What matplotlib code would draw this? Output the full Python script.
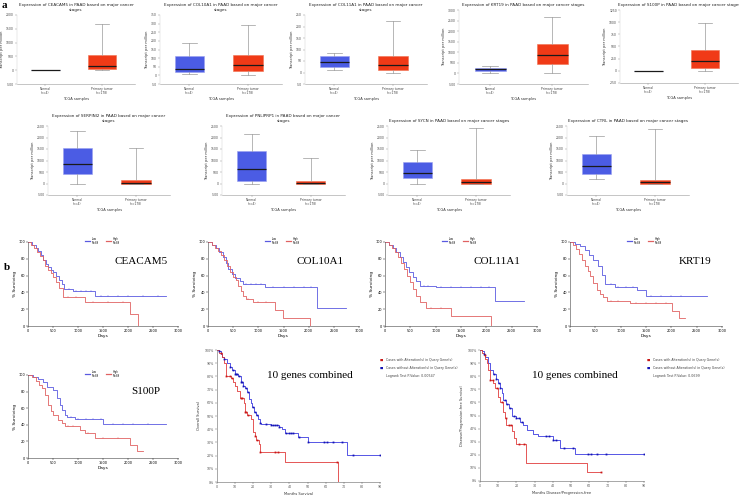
import numpy as np
import matplotlib
matplotlib.use("Agg")
import matplotlib.pyplot as plt
from matplotlib.lines import Line2D

W, H = 739, 497
fig = plt.figure(figsize=(W / 100, H / 100), dpi=100)
fig.patch.set_facecolor("white")
SERIF = ["Liberation Serif", "DejaVu Serif"]


def px_axes(l, t, r, b):
    return fig.add_axes([l / W, 1 - b / H, (r - l) / W, (b - t) / H])


def fx(x):
    return x / W


def fy(y):
    return 1 - y / H


# ---------------- (a) box plot data ----------------
box_genes = ["CEACAM5", "COL10A1", "COL11A1", "KRT19", "S100P",
             "SERPINI2", "PNLIPRP1", "SYCN", "CTRL"]
box_title_wrap = [True, True, True, False, False, True, True, False, False]
box_tick_lo = [-500, -50, -50, -500, -250, -500, -500, -500, -500]
box_tick_step = [500, 50, 50, 500, 250, 500, 500, 500, 500]
box_tick_n = [6, 9, 7, 8, 7, 7, 7, 7, 7]

normal_lo = [0, 6, 10, 0, 0, 0, 0, 0, 200]
normal_q1 = [0, 19, 23, 110, 0, 400, 130, 250, 430]
normal_med = [0, 38, 44, 190, 0, 830, 645, 470, 750]
normal_q3 = [6, 110, 70, 250, 3, 1540, 1415, 950, 1300]
normal_hi = [8, 186, 83, 345, 5, 2285, 2150, 1450, 2050]

tumor_lo = [0, 0, 0, 0, 0, 0, 0, 0, 0]
tumor_q1 = [36, 25, 10, 450, 68, 0, 0, 0, 0]
tumor_med = [143, 61, 31, 875, 203, 25, 30, 50, 50]
tumor_q3 = [536, 121, 70, 1390, 425, 145, 130, 200, 150]
tumor_hi = [1667, 292, 224, 2690, 988, 1545, 1100, 2400, 2350]

box_groups = ["Normal\n(n=4)", "Primary tumor\n(n=178)"]
box_rects = [(17, 15, 135, 84), (160, 15, 282, 84), (305, 15, 427, 84),
             (459, 10, 588, 84), (620, 10, 738, 83),
             (48, 126, 170, 195), (222, 126, 345, 195),
             (388, 126, 510, 195), (567, 126, 689, 195)]

BLUE_BOX = "#4b5ce4"
RED_BOX = "#f03a17"

for i, g in enumerate(box_genes):
    ax = px_axes(*box_rects[i])
    stats = [dict(med=normal_med[i], q1=normal_q1[i], q3=normal_q3[i],
                  whislo=normal_lo[i], whishi=normal_hi[i], fliers=[]),
             dict(med=tumor_med[i], q1=tumor_q1[i], q3=tumor_q3[i],
                  whislo=tumor_lo[i], whishi=tumor_hi[i], fliers=[])]
    bp = ax.bxp(stats, positions=[1, 2], widths=0.5, patch_artist=True,
                showfliers=False,
                boxprops=dict(linewidth=0.4, edgecolor="#9aa0f0"),
                medianprops=dict(color="#1a1a1a", linewidth=0.9),
                whiskerprops=dict(color="#9a9a9a", linewidth=0.5),
                capprops=dict(color="#9a9a9a", linewidth=0.5))
    bp["boxes"][0].set_facecolor(BLUE_BOX)
    bp["boxes"][1].set_facecolor(RED_BOX)
    bp["boxes"][1].set_edgecolor("#f07050")
    ticks = [box_tick_lo[i] + k * box_tick_step[i] for k in range(box_tick_n[i])]
    ax.set_ylim(ticks[0], ticks[-1])
    ax.set_yticks(ticks)
    ax.set_yticklabels([str(t) for t in ticks], fontsize=2.2, color="#444444")
    ax.set_xlim(0.5, 2.58)
    ax.set_xticks([1, 2])
    ax.set_xticklabels(box_groups, fontsize=2.2, color="#444444", linespacing=1.1)
    ax.tick_params(length=1.2, width=0.3, pad=1, colors="#888888", labelcolor="#444444")
    for s in ["top", "right"]:
        ax.spines[s].set_visible(False)
    ax.spines["left"].set_color("#cccccc")
    ax.spines["bottom"].set_color("#999999")
    ax.spines["left"].set_linewidth(0.3)
    ax.spines["bottom"].set_linewidth(0.4)
    ax.set_xlabel("TCGA samples", fontsize=2.6, labelpad=1.5, color="#333333")
    ax.set_ylabel("Transcript per million", fontsize=2.6, labelpad=1.5, color="#333333")
    title = "Expression of %s in PAAD based on major cancer stages" % g
    if box_title_wrap[i]:
        title = "Expression of %s in PAAD based on major cancer\nstages" % g
    ax.set_title(title, fontsize=3.0, pad=3, color="#222222", linespacing=1.4)

fig.text(fx(2), fy(6), "a", fontsize=8, fontweight="bold", family=SERIF, va="center")
fig.text(fx(4), fy(268), "b", fontsize=8, fontweight="bold", family=SERIF, va="center")

# ---------------- (b) Kaplan-Meier (days) ----------------
km_genes = ["CEACAM5", "COL10A1", "COL11A1", "KRT19", "S100P"]
km_low_n = ["N=89"] * 5
km_high_n = ["N=89"] * 5

low_t = [
    [0, 80, 150, 200, 250, 300, 350, 400, 450, 500, 560, 620, 680, 720, 900, 1330],
    [0, 80, 150, 220, 290, 350, 400, 470, 530, 630, 700, 1125, 2170],
    [0, 80, 150, 220, 290, 350, 420, 480, 550, 620, 700, 1000, 2180],
    [0, 100, 200, 300, 380, 460, 560, 630, 690, 890, 1320, 1500],
    [0, 100, 200, 300, 370, 500, 570, 630, 670, 730, 770, 930, 1500],
]
low_s = [
    [100, 97, 93, 89, 84, 79, 74, 70, 67, 64, 60, 55, 50, 44, 42, 36],
    [100, 97, 93, 88, 82, 75, 68, 62, 57, 54, 50, 46, 22],
    [100, 97, 93, 88, 82, 76, 70, 64, 58, 53, 48, 46, 30],
    [100, 98, 95, 90, 85, 79, 71, 61, 50, 47, 43, 36],
    [100, 98, 95, 91, 86, 82, 72, 64, 58, 52, 50, 47, 41],
]
low_end = [2750, 2750, 2750, 2700, 2750]

high_t = [
    [0, 60, 120, 180, 240, 300, 340, 400, 450, 500, 560, 620, 700, 1140, 2040, 2190],
    [0, 70, 140, 200, 260, 320, 380, 440, 500, 560, 600, 650, 700, 760, 890, 1340, 1490, 2020],
    [0, 70, 140, 200, 260, 320, 380, 440, 500, 560, 620, 700, 800, 1300, 2100],
    [0, 60, 120, 180, 230, 300, 360, 400, 460, 530, 590, 660, 725, 1190, 2010, 2160],
    [0, 80, 160, 220, 270, 330, 400, 460, 500, 600, 670, 730, 1030, 1130, 1330, 2030, 2170],
]
high_s = [
    [100, 97, 93, 88, 83, 78, 72, 67, 63, 58, 52, 45, 34, 28, 14, 0],
    [100, 97, 93, 89, 84, 78, 72, 64, 58, 55, 48, 42, 36, 32, 28, 19, 9, 0],
    [100, 97, 93, 88, 82, 75, 68, 60, 52, 44, 36, 28, 22, 12, 0],
    [100, 96, 92, 86, 79, 72, 65, 59, 51, 43, 38, 34, 30, 27, 18, 9],
    [100, 97, 93, 88, 84, 76, 64, 57, 52, 46, 42, 38, 34, 30, 24, 16, 8],
]
high_end = [2190, 2020, 2100, 2270, 2290]

low_cens = [
    [820, 950, 1050, 1150, 1250, 1450, 1600, 1800, 2000, 2300, 2600],
    [760, 850, 950, 1050, 1300, 1500, 1700, 1900, 2050],
    [760, 850, 1100, 1300, 1500, 1700, 1900, 2050],
    [800, 950, 1100, 1250, 1600, 1800, 2000, 2200],
    [850, 1000, 1150, 1300, 1450, 1700, 1900, 2100, 2400],
]
high_cens = [
    [800, 950, 1300, 1600, 1900],
    [800, 1000, 1150],
    [900, 1100],
    [800, 950, 1300, 1500, 1700, 1900],
    [800, 900, 1200, 1500, 1800],
]

km_rects = [(28, 242, 178, 326), (208, 242, 359, 326), (385, 242, 537, 326),
            (570, 242, 722, 326), (28, 375, 178, 458)]
km_label_pos = [(141, 262), (320, 262), (497, 262), (695, 262), (146, 391)]
KM_BLUE = "#5a5ae0"
KM_RED = "#e06262"


def surv_at(t_arr, s_arr, t):
    idx = np.searchsorted(np.asarray(t_arr), t, side="right") - 1
    return np.asarray(s_arr)[idx]


for i, g in enumerate(km_genes):
    ax = px_axes(*km_rects[i])
    lt = list(low_t[i]) + [low_end[i]]
    ls = list(low_s[i]) + [low_s[i][-1]]
    ht = list(high_t[i]) + [high_end[i]]
    hs = list(high_s[i]) + [high_s[i][-1]]
    ax.step(lt, ls, where="post", color=KM_BLUE, lw=0.6)
    ax.step(ht, hs, where="post", color=KM_RED, lw=0.6)
    ax.plot(low_cens[i], surv_at(low_t[i], low_s[i], low_cens[i]), "|",
            color=KM_BLUE, ms=1.5, mew=0.3)
    ax.plot(high_cens[i], surv_at(high_t[i], high_s[i], high_cens[i]), "|",
            color=KM_RED, ms=1.5, mew=0.3)
    ax.set_xlim(0, 3000)
    ax.set_ylim(0, 100)
    ax.set_xticks(range(0, 3001, 500))
    ax.set_yticks(range(0, 101, 20))
    ax.tick_params(labelsize=2.5, length=1.2, width=0.3, pad=1)
    for s in ["top", "right"]:
        ax.spines[s].set_visible(False)
    for s in ["left", "bottom"]:
        ax.spines[s].set_linewidth(0.4)
        ax.spines[s].set_color("#444444")
    ax.set_xlabel("Days", fontsize=3.2, labelpad=1)
    ax.set_ylabel("% Surviving", fontsize=3.2, labelpad=1)
    l, t, r, b = km_rects[i]
    ly = t - 1
    fig.add_artist(Line2D([fx(l + 57), fx(l + 62)], [fy(ly), fy(ly)], color=KM_BLUE, lw=0.9))
    fig.text(fx(l + 64), fy(ly), "Low\n" + km_low_n[i], fontsize=1.8, va="center",
             ha="left", linespacing=1.0)
    fig.add_artist(Line2D([fx(l + 78), fx(l + 83)], [fy(ly), fy(ly)], color=KM_RED, lw=0.9))
    fig.text(fx(l + 85), fy(ly), "High\n" + km_high_n[i], fontsize=1.8, va="center",
             ha="left", linespacing=1.0)
    lx, lyy = km_label_pos[i]
    fig.text(fx(lx), fy(lyy), g, fontsize=8, family=SERIF, ha="center", va="center")

# ---------------- (b) cBioPortal combined (months) ----------------
os_wo_t = [0, 1, 2, 3, 4, 5.5, 7, 8.3, 10, 11.5, 13, 14.3, 15.5, 16.5, 17.5, 18.5,
           19.5, 20.5, 21.5, 22.5, 23.5, 24.5, 30, 34, 36, 37.5, 44.5, 50.5, 72]
os_wo_s = [100, 99, 97, 95, 93, 90, 87, 85, 82, 80, 76, 73, 71, 68, 63, 60,
           57, 53, 51, 48, 45, 44, 43, 42, 40, 37.5, 34, 30.5, 20.5]
os_wo_end = 90
os_w_t = [0, 1, 2.5, 4, 5, 8, 9, 10, 11, 12.5, 15, 15.5, 16.5, 19, 20, 20.8,
          21.5, 23, 24, 37.5, 67]
os_w_s = [100, 98, 95, 90, 80, 79, 76, 73, 69, 64, 60, 53, 51, 48, 38, 35,
          32, 29, 23, 15, 0]
os_w_end = 67
os_wo_cens = [1, 4, 7, 9, 10, 10.5, 11, 12, 13.5, 14, 14.5, 16, 17, 20, 21, 22,
              24, 27, 30, 31, 32, 33, 34, 38, 40, 41, 42, 45, 50.5, 59, 61, 64, 69, 75, 90]
os_w_cens = [2, 5, 7, 8.3, 13, 14, 15.5, 16, 17, 21, 22, 24, 32, 33.5, 66.5]
os_p = "Logrank Test P-Value: 0.00547"

dfs_wo_t = [0, 1, 2, 3, 4.5, 5.5, 7.3, 9, 10, 11, 12.2, 12.7, 14.5, 16, 17.3, 20,
            22, 23.6, 26, 29, 32, 40, 43.9, 52]
dfs_wo_s = [100, 99, 97, 95, 90, 85, 82, 78, 75, 71, 67, 62, 59, 55.5, 50, 48,
            45, 43, 39, 36, 34, 31, 25, 20.6]
dfs_wo_end = 90
dfs_w_t = [0, 1, 2, 3, 3.6, 4.5, 5.5, 7.3, 8.2, 10, 11, 12.4, 13.6, 14.5, 17.8,
           18.5, 19.6, 25.5, 58.5]
dfs_w_s = [100, 98, 96, 93, 90, 85, 77, 75, 71, 64, 60.5, 53, 48, 43, 38,
           32.5, 28, 14, 7]
dfs_w_end = 66.5
dfs_wo_cens = [2, 7.5, 9, 10.5, 11, 13.5, 15, 16.5, 18.5, 20, 21.5, 23, 36, 38,
               40, 41.5, 46, 51, 59, 61, 64, 69, 90]
dfs_w_cens = [2.5, 5.5, 7, 9.5, 12, 14, 16, 17, 21.5, 24, 66.5]
dfs_p = "Logrank Test P-Value: 0.0699"

CB_BLUE = "#3a3ae0"
CB_RED = "#e03a3a"
CB_BLUE_M = "#1414b4"
CB_RED_M = "#c81818"

combo = [
    dict(rect=(217, 350, 380, 482), wt=os_w_t, ws=os_w_s, wend=os_w_end,
         wot=os_wo_t, wos=os_wo_s, woend=os_wo_end, wc=os_w_cens, woc=os_wo_cens,
         ylab="Overall Survival", xlab="Months Survival", p=os_p,
         leg=(380, 360), lab=(310, 375)),
    dict(rect=(480, 350, 644, 481), wt=dfs_w_t, ws=dfs_w_s, wend=dfs_w_end,
         wot=dfs_wo_t, wos=dfs_wo_s, woend=dfs_wo_end, wc=dfs_w_cens, woc=dfs_wo_cens,
         ylab="Disease/Progression-free Survival", xlab="Months Disease/Progression-free",
         p=dfs_p, leg=(647, 360), lab=(575, 375)),
]

for c in combo:
    ax = px_axes(*c["rect"])
    ax.step(list(c["wot"]) + [c["woend"]], list(c["wos"]) + [c["wos"][-1]],
            where="post", color=CB_BLUE, lw=0.6)
    ax.step(list(c["wt"]) + [c["wend"]], list(c["ws"]) + [c["ws"][-1]],
            where="post", color=CB_RED, lw=0.6)
    ax.plot(c["woc"], surv_at(c["wot"], c["wos"], c["woc"]), "s", color=CB_BLUE_M,
            ms=1.3, mew=0)
    ax.plot(c["wc"], surv_at(c["wt"], c["ws"], c["wc"]), "s", color=CB_RED_M,
            ms=1.3, mew=0)
    ax.set_xlim(0, 90)
    ax.set_ylim(0, 100)
    ax.set_xticks(range(0, 91, 10))
    ax.set_yticks(range(0, 101, 10))
    ax.set_yticklabels(["%d%%" % v for v in range(0, 101, 10)])
    ax.tick_params(labelsize=2.3, length=1.2, width=0.3, pad=1, colors="#555555")
    for s in ["top", "right"]:
        ax.spines[s].set_visible(False)
    for s in ["left", "bottom"]:
        ax.spines[s].set_linewidth(0.4)
        ax.spines[s].set_color("#666666")
    ax.set_xlabel(c["xlab"], fontsize=2.6, labelpad=2, color="#333333")
    ax.set_ylabel(c["ylab"], fontsize=2.6, labelpad=3, color="#333333")
    lx, ly = c["leg"]
    fig.text(fx(lx), fy(ly), "\u25a0", fontsize=2.5, color=CB_RED_M, va="center")
    fig.text(fx(lx + 6), fy(ly), "Cases with Alteration(s) in Query Gene(s)",
             fontsize=2.3, color="#444444", va="center")
    fig.text(fx(lx), fy(ly + 8), "\u25a0", fontsize=2.5, color=CB_BLUE_M, va="center")
    fig.text(fx(lx + 6), fy(ly + 8), "Cases without Alteration(s) in Query Gene(s)",
             fontsize=2.3, color="#444444", va="center")
    fig.text(fx(lx + 6), fy(ly + 16), c["p"], fontsize=2.3, color="#444444", va="center")
    bx, by = c["lab"]
    fig.text(fx(bx), fy(by), "10 genes combined", fontsize=8, family=SERIF,
             ha="center", va="center")

fig.savefig("out.png", dpi=100, facecolor="white")
